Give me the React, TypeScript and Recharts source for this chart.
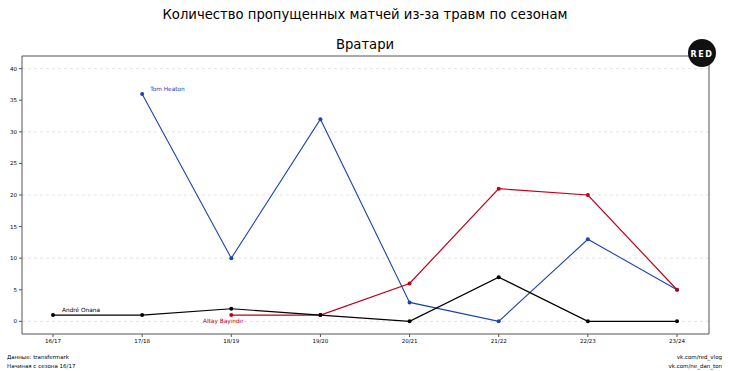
import React from 'react';
import { LineChart, Line, XAxis, YAxis, ReferenceLine } from 'recharts';

const seasons = ['16/17', '17/18', '18/19', '19/20', '20/21', '21/22', '22/23', '23/24'];
const onana = [1, 1, 2, 1, 0, 7, 0, 0];
const heaton = [null, 36, 10, 32, 3, 0, 13, 5];
const bayindir = [null, null, 1, 1, 6, 21, 20, 5];
const yTicks = [0, 5, 10, 15, 20, 25, 30, 35, 40];
const gridLines = [0, 10, 20, 30, 40];

const data = seasons.map((s, i) => ({ season: s, onana: onana[i], heaton: heaton[i], bayindir: bayindir[i] }));

const FONT = 'DejaVu Sans, sans-serif';
const BLUE = '#1c44b4';
const RED = '#c00018';
const BLACK = '#000000';
const SPINE = '#555555';

const makeLabel = (idx: number, text: string, color: string, dx: number, dy: number, anchor: string) => (props: any) => {
  if (props.index !== idx) return null;
  return (
    <text x={props.x + dx} y={props.y + dy} fill={color} fontSize={5.8} fontFamily={FONT} textAnchor={anchor}>
      {text}
    </text>
  );
};

export default function App() {
  return (
    <div style={{ position: 'absolute', left: 0, top: 0, width: 730, height: 371, background: '#fff', fontFamily: FONT }}>
      <LineChart width={730} height={371} data={data} margin={{ top: 55, right: 20, bottom: 17, left: 0 }}>
        {gridLines.map((g) => (
          <ReferenceLine key={g} y={g} stroke="#dddddd" strokeDasharray="3 3" strokeWidth={0.8} />
        ))}
        <XAxis
          dataKey="season"
          padding={{ left: 31, right: 32 }}
          height={20}
          tick={{ fontSize: 5.5, fill: '#000', fontFamily: FONT }}
          tickSize={3}
          tickLine={{ stroke: SPINE }}
          axisLine={{ stroke: SPINE, strokeWidth: 1 }}
          interval={0}
        />
        <XAxis xAxisId="top" orientation="top" dataKey="season" height={1} tick={false} tickLine={false} axisLine={{ stroke: SPINE, strokeWidth: 1 }} padding={{ left: 31, right: 32 }} />
        <YAxis
          domain={[-2, 42]}
          ticks={yTicks}
          width={22}
          tick={{ fontSize: 5.5, fill: '#000', fontFamily: FONT }}
          tickSize={3}
          tickLine={{ stroke: SPINE }}
          axisLine={{ stroke: SPINE, strokeWidth: 1 }}
          allowDataOverflow
        />
        <YAxis yAxisId="right" orientation="right" width={1} domain={[-2, 42]} tick={false} tickLine={false} axisLine={{ stroke: SPINE, strokeWidth: 1 }} />
        <Line
          dataKey="heaton"
          stroke={BLUE}
          strokeWidth={1.1}
          dot={{ r: 2, fill: BLUE, stroke: BLUE, strokeWidth: 0 }}
          isAnimationActive={false}
          connectNulls={false}
          label={makeLabel(1, 'Tom Heaton', BLUE, 8, -3, 'start')}
        />
        <Line
          dataKey="bayindir"
          stroke={RED}
          strokeWidth={1.2}
          dot={{ r: 2, fill: RED, stroke: RED, strokeWidth: 0 }}
          isAnimationActive={false}
          connectNulls={false}
          label={makeLabel(2, 'Altay Bayındır', RED, -8, 8, 'middle')}
        />
        <Line
          dataKey="onana"
          stroke={BLACK}
          strokeWidth={1.2}
          dot={{ r: 2, fill: BLACK, stroke: BLACK, strokeWidth: 0 }}
          isAnimationActive={false}
          label={makeLabel(0, 'André Onana', BLACK, 9, -3, 'start')}
        />
      </LineChart>
      <svg width={730} height={371} style={{ position: 'absolute', left: 0, top: 0, pointerEvents: 'none' }}>
        <text x={365} y={19} textAnchor="middle" fontSize={13.2} fontFamily={FONT} fill="#000">
          Количество пропущенных матчей из-за травм по сезонам
        </text>
        <text x={365} y={49} textAnchor="middle" fontSize={13.2} fontFamily={FONT} fill="#000">
          Вратари
        </text>
        <circle cx={702} cy={53} r={14} fill="#111" />
        <text x={702} y={57} textAnchor="middle" fontSize={8} fontWeight="bold" letterSpacing={1.5} fontFamily={FONT} fill="#fff">RED</text>
        <text x={7} y={359} fontSize={5.5} fontFamily={FONT} fill="#000">Данные: transfermark</text>
        <text x={7} y={368} fontSize={5.5} fontFamily={FONT} fill="#000">Начиная с сезона 16/17</text>
        <text x={722} y={359} textAnchor="end" fontSize={5.5} fontFamily={FONT} fill="#000">vk.com/red_vlog</text>
        <text x={722} y={368} textAnchor="end" fontSize={5.5} fontFamily={FONT} fill="#000">vk.com/ne_dan_ton</text>
      </svg>
    </div>
  );
}
